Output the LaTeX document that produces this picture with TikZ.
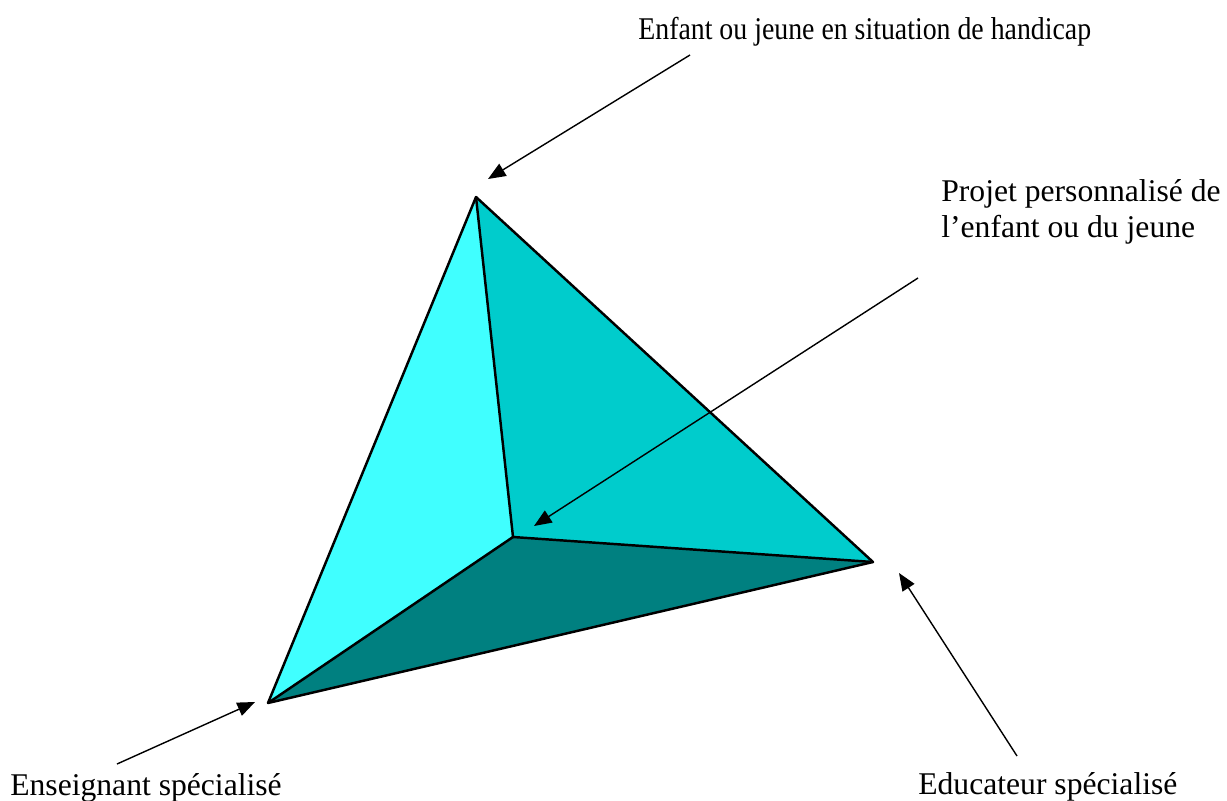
\documentclass[tikz,border=0pt]{standalone}
\usepackage{fontspec}
\setmainfont{Liberation Serif}
\newfontfamily\narrowserif[FakeStretch=0.88]{Liberation Serif}
\usetikzlibrary{arrows.meta}
\definecolor{facelight}{HTML}{40FFFF}
\definecolor{facemid}{HTML}{00CCCC}
\definecolor{facedark}{HTML}{008080}
\tikzset{
  face/.style={draw=black, line width=1.4pt, line join=round},
  pointer/.style={draw=black, line width=0.8pt, -{Triangle[length=10pt,width=8pt]}},
  label/.style={font=\fontsize{18}{20}\selectfont, inner sep=0pt, anchor=base west, align=left}
}
\begin{document}
\begin{tikzpicture}[x=0.02cm,y=-0.02cm]
\useasboundingbox (0,0) rectangle (1227,801);
\coordinate (A) at (476,197);
\coordinate (I) at (513,537);
\coordinate (R) at (873,562);
\coordinate (B) at (268,703);
\fill[facelight] (A) -- (I) -- (B) -- cycle;
\fill[facemid] (A) -- (R) -- (I) -- cycle;
\fill[facedark] (I) -- (R) -- (B) -- cycle;
\draw[face] (A) -- (R) -- (B) -- cycle;
\draw[face] (A) -- (I) -- (R);
\draw[face] (I) -- (B);
% labels
\node[label, font=\narrowserif\fontsize{18}{20}\selectfont] (enfant) at (638,39) {Enfant ou jeune en situation de handicap};
\node[label] (projet) at (941,237) {Projet personnalisé de\\l’enfant ou du jeune};
\node[label] (ens) at (10,795) {Enseignant spécialisé};
\node[label] (edu) at (918,794) {Educateur spécialisé};
% arrow ends
\coordinate (e1s) at (690,55);
\coordinate (e1t) at (488,179);
\coordinate (e2s) at (918,278);
\coordinate (e2t) at (534,526);
\coordinate (e3s) at (1017,756);
\coordinate (e3t) at (899,573);
\coordinate (e4s) at (117,764);
\coordinate (e4t) at (255,702);
\draw[pointer] (e1s) -- (e1t);
\draw[pointer] (e2s) -- (e2t);
\draw[pointer] (e3s) -- (e3t);
\draw[pointer] (e4s) -- (e4t);
\end{tikzpicture}
\end{document}
